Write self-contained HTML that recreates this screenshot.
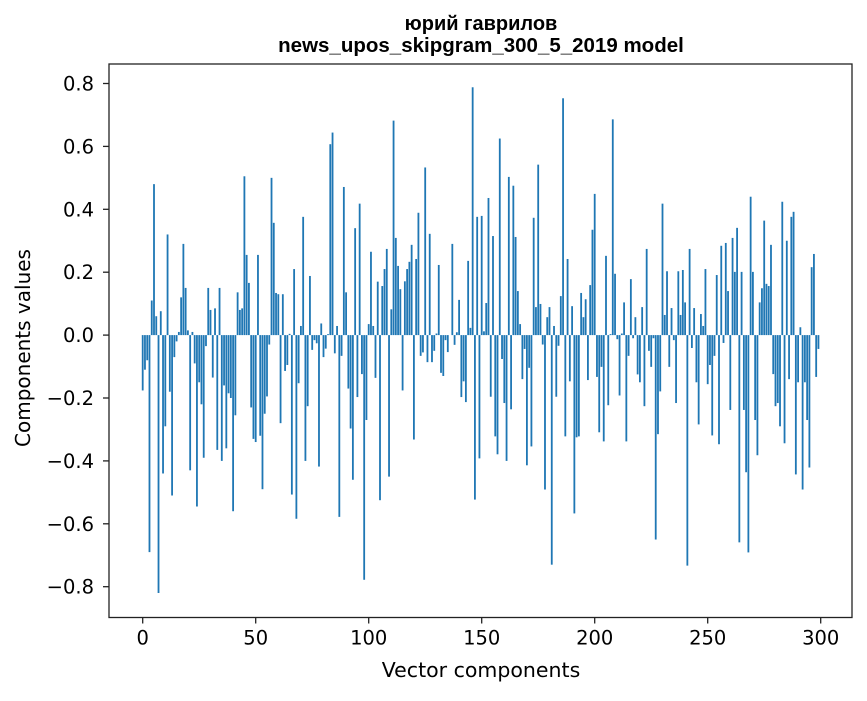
<!DOCTYPE html>
<html><head><meta charset="utf-8"><style>
body{margin:0;background:#fff;}
svg text{font-family:"DejaVu Sans","Liberation Sans",sans-serif;fill:#000;}
</style></head><body>
<svg id="chart" width="867" height="696" viewBox="0 0 867 696" xmlns="http://www.w3.org/2000/svg">
<rect width="867" height="696" fill="#fff"/>
<text x="481" y="30" text-anchor="middle" font-size="20" font-weight="bold" style="font-family:'Liberation Sans',sans-serif">юрий гаврилов</text>
<text x="481" y="52" text-anchor="middle" font-size="20.5" font-weight="bold" style="font-family:'Liberation Sans',sans-serif">news_upos_skipgram_300_5_2019 model</text>
<g id="bars"></g>
<g id="axes"></g>
<text x="481" y="677" text-anchor="middle" font-size="20.5">Vector components</text>
<text transform="translate(30,348) rotate(-90)" text-anchor="middle" font-size="20">Components values</text>
</svg>
<script>
const values=[-0.176,-0.11,-0.08,-0.69,0.11,0.48,0.06,-0.82,0.076,-0.44,-0.29,0.32,-0.18,-0.51,-0.07,-0.02,0.01,0.12,0.29,0.15,0.015,-0.43,0.01,-0.09,-0.545,-0.15,-0.22,-0.39,-0.035,0.15,0.08,-0.135,0.085,-0.365,0.15,-0.40,-0.16,-0.36,-0.185,-0.2,-0.56,-0.255,0.136,0.08,0.085,0.505,0.255,0.166,-0.23,-0.33,
-0.34,0.255,-0.32,-0.49,-0.25,-0.195,-0.03,0.5,0.357,0.134,0.13,-0.28,0.13,-0.114,-0.095,0.004,-0.507,0.21,-0.584,-0.153,0.029,0.376,-0.40,-0.226,0.188,-0.047,-0.016,-0.026,-0.418,0.037,-0.07,-0.043,0.003,0.607,0.644,-0.058,0.029,-0.578,-0.066,0.471,0.136,-0.17,-0.297,-0.46,0.34,-0.197,0.418,-0.124,-0.778,-0.27,
0.035,0.265,0.029,-0.136,0.17,-0.525,0.156,0.21,0.274,-0.45,0.082,0.682,0.309,0.22,0.146,-0.176,0.171,0.21,0.233,0.287,-0.332,0.242,0.389,-0.066,-0.055,0.533,-0.086,0.322,-0.086,-0.05,0.005,0.223,-0.12,-0.13,-0.016,-0.054,0.0,0.29,-0.031,0.009,0.112,-0.197,-0.147,-0.213,0.236,0.023,0.788,-0.523,0.376,-0.392,
0.379,0.012,0.102,0.436,-0.196,0.315,-0.322,-0.379,0.625,-0.076,-0.216,-0.4,0.503,-0.236,0.475,0.312,0.14,0.035,-0.14,-0.044,-0.414,-0.104,-0.354,0.373,0.089,0.542,0.099,-0.03,-0.491,0.057,0.089,-0.73,0.029,-0.196,-0.034,0.124,0.753,-0.322,0.242,-0.147,0.092,-0.567,-0.325,-0.322,0.134,0.057,0.114,-0.143,0.159,0.335,
0.449,-0.133,-0.309,-0.101,-0.338,0.252,-0.223,0.003,0.686,0.195,-0.013,-0.192,0.005,0.104,-0.338,-0.066,0.178,-0.01,0.057,-0.125,-0.15,0.089,-0.226,0.274,-0.05,-0.101,-0.01,-0.65,-0.315,-0.179,0.418,0.064,0.203,-0.101,0.086,-0.016,-0.216,0.203,0.064,0.207,0.104,-0.733,0.274,-0.041,0.086,-0.15,-0.284,0.067,0.029,0.21,
-0.156,-0.095,-0.319,-0.066,0.191,-0.347,0.284,-0.025,0.293,0.14,-0.238,0.309,0.201,0.341,-0.659,0.201,-0.238,-0.436,-0.691,0.44,0.201,-0.27,-0.382,0.104,0.149,0.364,0.163,0.156,0.287,-0.124,-0.226,-0.216,-0.29,0.424,-0.344,0.3,-0.14,0.376,0.392,-0.443,-0.15,0.025,-0.491,-0.15,-0.27,-0.421,0.216,0.258,-0.133,-0.044];
const xTicks=[0,50,100,150,200,250,300];
const yTicks=[-0.8,-0.6,-0.4,-0.2,0.0,0.2,0.4,0.6,0.8];
const yTickLabels=["−0.8","−0.6","−0.4","−0.2","0.0","0.2","0.4","0.6","0.8"];

const NS="http://www.w3.org/2000/svg";
const L=109,R=852,T=64,B=617.5;
const xs=v=>142.7+v*2.26;
const ys=v=>335.1-v*314.5;
const bars=document.getElementById('bars');
values.forEach((v,i)=>{
  const r=document.createElementNS(NS,'rect');
  const y0=ys(0),y1=ys(v);
  r.setAttribute('x',xs(i-0.4));
  r.setAttribute('width',2.26*0.8);
  r.setAttribute('y',Math.min(y0,y1));
  r.setAttribute('height',Math.abs(y1-y0));
  r.setAttribute('fill','#1f77b4');
  
  
  bars.appendChild(r);
});
const ax=document.getElementById('axes');
const frame=document.createElementNS(NS,'rect');
frame.setAttribute('x',L);frame.setAttribute('y',T);
frame.setAttribute('width',R-L);frame.setAttribute('height',B-T);
frame.setAttribute('fill','none');frame.setAttribute('stroke','#222');frame.setAttribute('stroke-width','1.3');


ax.appendChild(frame);
xTicks.forEach(t=>{
  const l=document.createElementNS(NS,'line');
  l.setAttribute('x1',xs(t));l.setAttribute('x2',xs(t));l.setAttribute('y1',B);l.setAttribute('y2',B+6);
  l.setAttribute('stroke','#222');l.setAttribute('stroke-width','1.3');
  
  
  ax.appendChild(l);
  const tx=document.createElementNS(NS,'text');
  tx.setAttribute('x',xs(t));tx.setAttribute('y',B+27);tx.setAttribute('text-anchor','middle');tx.setAttribute('font-size','19.5');
  tx.textContent=t;
  
  
  ax.appendChild(tx);
});
yTicks.forEach((t,k)=>{
  const l=document.createElementNS(NS,'line');
  l.setAttribute('x1',L-6);l.setAttribute('x2',L);l.setAttribute('y1',ys(t));l.setAttribute('y2',ys(t));
  l.setAttribute('stroke','#222');l.setAttribute('stroke-width','1.3');
  
  
  ax.appendChild(l);
  const tx=document.createElementNS(NS,'text');
  tx.setAttribute('x',L-15);tx.setAttribute('y',ys(t)+7);tx.setAttribute('text-anchor','end');tx.setAttribute('font-size','19.5');
  tx.textContent=yTickLabels[k];
  
  
  ax.appendChild(tx);
});
</script>
</body></html>
